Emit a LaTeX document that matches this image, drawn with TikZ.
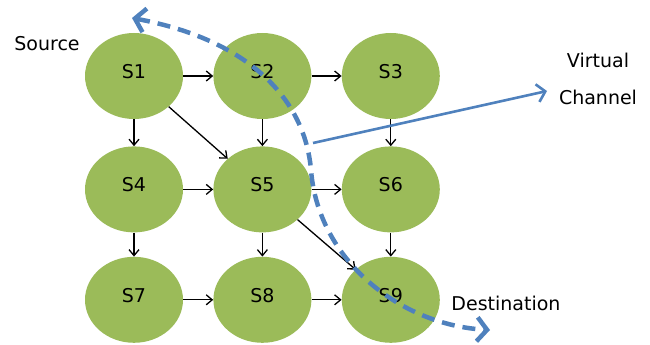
\documentclass[tikz,border=0pt]{standalone}
\usepackage{fontspec}
\setmainfont{DejaVu Sans}
\usetikzlibrary{shapes,chains,positioning,arrows.meta}

\definecolor{nodegreen}{RGB}{155,187,89}
\definecolor{chanblue}{RGB}{79,129,189}

\begin{document}
\begin{tikzpicture}[x=1pt,y=-1pt]
        \tikzstyle{every node}=[font=\fontsize{19}{22}\selectfont]

        \edef\sizew{98pt}
        \edef\sizeh{86pt}
        \tikzstyle{sw}=[ellipse,fill=nodegreen,minimum width=\sizew,minimum height=\sizeh,inner sep=0pt,text depth=9pt]
        \tikzstyle{edge}=[-{Straight Barb[length=6pt,width=10pt]},line width=1.3pt]
        \tikzstyle{txt}=[draw=none,inner sep=0pt]
        \tikzstyle{vpath}=[chanblue,line width=4.5pt,dash pattern=on 13pt off 8pt,
            {Straight Barb[length=10pt,width=24pt]}-{Straight Barb[length=10pt,width=24pt]}]
        \tikzstyle{vline}=[chanblue,line width=2.6pt,-{Straight Barb[length=8pt,width=18pt]}]

        \useasboundingbox (0,0) rectangle (650,345);

        \begin{scope}[start chain=1 going right,node distance=30pt]
        \node [on chain=1,sw] at (134,76) (s1) {S1};
        \node [on chain=1,sw] (s2) {S2};
        \node [on chain=1,sw] (s3) {S3};
        \end{scope}

        \begin{scope}[start chain=2 going right,node distance=30pt]
        \node [on chain=2,sw,below=27pt of s1] (s4) {S4};
        \node [on chain=2,sw] (s5) {S5};
        \node [on chain=2,sw] (s6) {S6};
        \end{scope}

        \begin{scope}[start chain=3 going right,node distance=30pt]
        \node [on chain=3,sw,below=24pt of s4] (s7) {S7};
        \node [on chain=3,sw] (s8) {S8};
        \node [on chain=3,sw] (s9) {S9};
        \end{scope}

        %links between the switches
        \foreach \a/\b in {s1/s2,s2/s3,s4/s5,s5/s6,s7/s8,s8/s9,
                           s1/s4,s2/s5,s3/s6,s4/s7,s5/s8,s6/s9,s1/s5,s5/s9} {
            \draw [edge] (\a) -- (\b);
        };

        %texts
        \node [txt] at (47,44) (src) {Source};
        \node [txt] at (598,60) (virt) {Virtual};
        \node [txt] at (598,97) (chan) {Channel};
        \node [txt] at (506,303) (dest) {Destination};

        %virtual channel
        \coordinate (vtop) at (132,18);
        \coordinate (vbend) at (311,170);
        \coordinate (vbot) at (490,330);
        \draw [vpath] (vtop) .. controls (250,40) and (305,100) .. (vbend)
                             .. controls (318,260) and (400,325) .. (vbot);

        \coordinate (vfrom) at (313,143);
        \coordinate (vto) at (547,91);
        \draw [vline] (vfrom) -- (vto);
\end{tikzpicture}
\end{document}
